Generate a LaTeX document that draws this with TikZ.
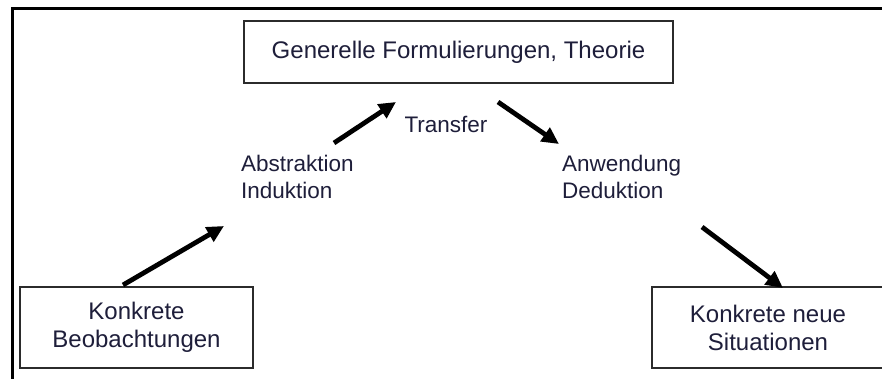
\documentclass[tikz,border=0pt]{standalone}
\usepackage{fontspec}
\setmainfont{Liberation Sans}
\usetikzlibrary{arrows.meta}
\definecolor{boxline}{HTML}{2B2B2B}
\definecolor{ink}{HTML}{1E1E3A}
\tikzset{
  box/.style={draw=boxline, line width=1.4pt, rectangle, inner sep=0pt,
    align=center, text=ink, font=\fontsize{24}{28}\selectfont},
  lbl/.style={inner sep=0pt, align=left, text=ink, font=\fontsize{22.5}{27}\selectfont},
  flow/.style={line width=4.8pt, -{Triangle[length=17pt,width=16pt]}, black}
}
\begin{document}
\begin{tikzpicture}[x=1pt,y=-1pt]
  \useasboundingbox (0,0) rectangle (882,379);
  \fill[white] (0,0) rectangle (882,379);
  % outer frame, open towards right and bottom
  \draw[line width=3.2pt] (12.5,385) -- (12.5,8.5) -- (890,8.5);

  % boxes
  \node[box, minimum width=429pt, minimum height=62pt] (theory) at (458.5,52)
    {\raisebox{3pt}{Generelle Formulierungen, Theorie}};
  \node[box, minimum width=233pt, minimum height=81pt] (obs) at (136.5,327.5)
    {Konkrete\\Beobachtungen};
  \node[box, minimum width=232pt, minimum height=81pt] (new) at (768,327.5)
    {Konkrete neue\\Situationen};

  % labels
  \node[lbl, anchor=base west] (abs) at (241,172) {Abstraktion};
  \node[lbl, anchor=base west] (ind) at (241,199) {Induktion};
  \node[lbl, anchor=base west] (anw) at (562,172) {Anwendung};
  \node[lbl, anchor=base west] (ded) at (562,199) {Deduktion};
  \node[lbl, anchor=base] (trans) at (446,133) {Transfer};

  % arrow end points
  \coordinate (a1s) at (123,285);
  \coordinate (a1e) at (224,226);
  \coordinate (a2s) at (334,143);
  \coordinate (a2e) at (396,102);
  \coordinate (a3s) at (498,102);
  \coordinate (a3e) at (559,144);
  \coordinate (a4s) at (702,227);
  \coordinate (a4e) at (783,288);

  \draw[flow] (a1s) -- (a1e);
  \draw[flow] (a2s) -- (a2e);
  \draw[flow] (a3s) -- (a3e);
  \draw[flow] (a4s) -- (a4e);
\end{tikzpicture}
\end{document}
